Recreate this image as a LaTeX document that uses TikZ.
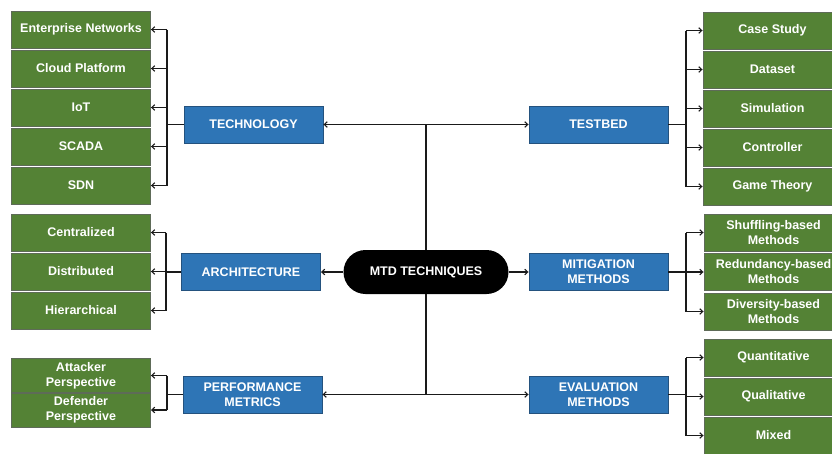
\documentclass[tikz,border=0pt]{standalone}
\usepackage{fontspec}
\setmainfont{Liberation Sans}
\usetikzlibrary{arrows.meta}
\definecolor{leafgreen}{HTML}{548235}
\definecolor{leafedge}{HTML}{5E6B58}
\definecolor{catblue}{HTML}{2E75B6}
\definecolor{catedge}{HTML}{24527E}
\definecolor{wire}{HTML}{1A1A1A}
\begin{document}
\begin{tikzpicture}[x=1pt,y=-1pt,
  lbl/.style={text=white,font=\bfseries\fontsize{12.5}{15}\selectfont,align=center,inner sep=0pt},
  leaf/.style={lbl,draw=leafedge,line width=0.9pt,fill=leafgreen,minimum width=139,minimum height=37},
  cat/.style={lbl,draw=catedge,line width=0.9pt,fill=catblue,minimum width=139,minimum height=37},
  hub/.style={lbl,fill=black,rounded corners=22pt,minimum width=165,minimum height=44},
  link/.style={draw=wire,line width=1.1pt},
  arr/.style={link,-{Straight Barb[length=3pt,width=5.5pt]}}]
\useasboundingbox (0,0) rectangle (832,453);

% centre and categories
\node[hub] (mtd) at (426,272) {MTD TECHNIQUES};
\node[cat] (tech) at (253.5,124.5) {TECHNOLOGY};
\node[cat] (arch) at (251,272) {ARCHITECTURE};
\node[cat] (perf) at (252.5,394.5) {PERFORMANCE\\METRICS};
\node[cat] (test) at (598.5,124.5) {TESTBED};
\node[cat] (miti) at (598.5,272) {MITIGATION\\METHODS};
\node[cat] (eval) at (598.5,394.5) {EVALUATION\\METHODS};

% technology leaves
\node[leaf] (t1) at (81,29.5) {Enterprise Networks};
\node[leaf] (t2) at (81,68.5) {Cloud Platform};
\node[leaf] (t3) at (81,107.5) {IoT};
\node[leaf] (t4) at (81,146.5) {SCADA};
\node[leaf] (t5) at (81,185.5) {SDN};
% architecture leaves
\node[leaf] (a1) at (81,232.5) {Centralized};
\node[leaf] (a2) at (81,271.5) {Distributed};
\node[leaf] (a3) at (81,310.5) {Hierarchical};
% performance leaves
\node[leaf,minimum height=34] (p1) at (81,375.5) {Attacker\\Perspective};
\node[leaf,minimum height=34] (p2) at (81,410) {Defender\\Perspective};
% testbed leaves
\node[leaf] (s1) at (772.5,30.5) {Case Study};
\node[leaf] (s2) at (772.5,69.5) {Dataset};
\node[leaf] (s3) at (772.5,108.5) {Simulation};
\node[leaf] (s4) at (772.5,147.5) {Controller};
\node[leaf] (s5) at (772.5,186.5) {Game Theory};
% mitigation leaves
\node[leaf] (m1) at (773.5,232.5) {Shuffling-based\\Methods};
\node[leaf] (m2) at (773.5,272) {Redundancy-based\\Methods};
\node[leaf] (m3) at (773.5,311.5) {Diversity-based\\Methods};
% evaluation leaves
\node[leaf] (e1) at (773.5,357.5) {Quantitative};
\node[leaf] (e2) at (773.5,396.5) {Qualitative};
\node[leaf] (e3) at (773.5,435.5) {Mixed};

% main spine
\coordinate (top) at (426,124.5);
\coordinate (bot) at (426,394.5);
\draw[link] (top) -- (mtd.north);
\draw[link] (mtd.south) -- (bot);
\draw[arr] (top) -- (tech.east);
\draw[arr] (top) -- (test.west);
\draw[arr] (bot) -- (perf.east);
\draw[arr] (bot) -- (eval.west);
\draw[arr] (mtd.west) -- (arch.east);
\draw[arr] (mtd.east) -- (miti.west);

% left buses
\coordinate (tb) at (167,124.5);
\draw[link] (tech.west) -- (tb);
\draw[link] (tb |- t1.west) -- (tb |- t5.west);
\foreach \n in {t1,t2,t3,t4,t5} \draw[arr] (tb |- \n.west) -- (\n.east);

\coordinate (ab) at (166,272);
\draw[link] (arch.west) -- (ab);
\draw[link] (ab |- a1.west) -- (ab |- a3.west);
\foreach \n in {a1,a2,a3} \draw[arr] (ab |- \n.west) -- (\n.east);

\coordinate (pb) at (167,394.5);
\draw[link] (perf.west) -- (pb);
\draw[link] (pb |- p1.west) -- (pb |- p2.west);
\foreach \n in {p1,p2} \draw[arr] (pb |- \n.west) -- (\n.east);

% right buses
\coordinate (sb) at (686,124.5);
\draw[link] (test.east) -- (sb);
\draw[link] (sb |- s1.west) -- (sb |- s5.west);
\foreach \n in {s1,s2,s3,s4,s5} \draw[arr] (sb |- \n.west) -- (\n.west);

\coordinate (mb) at (686,272);
\draw[link] (miti.east) -- (mb);
\draw[link] (mb |- m1.west) -- (mb |- m3.west);
\foreach \n in {m1,m2,m3} \draw[arr] (mb |- \n.west) -- (\n.west);

\coordinate (eb) at (686,394.5);
\draw[link] (eval.east) -- (eb);
\draw[link] (eb |- e1.west) -- (eb |- e3.west);
\foreach \n in {e1,e2,e3} \draw[arr] (eb |- \n.west) -- (\n.west);
\end{tikzpicture}
\end{document}
